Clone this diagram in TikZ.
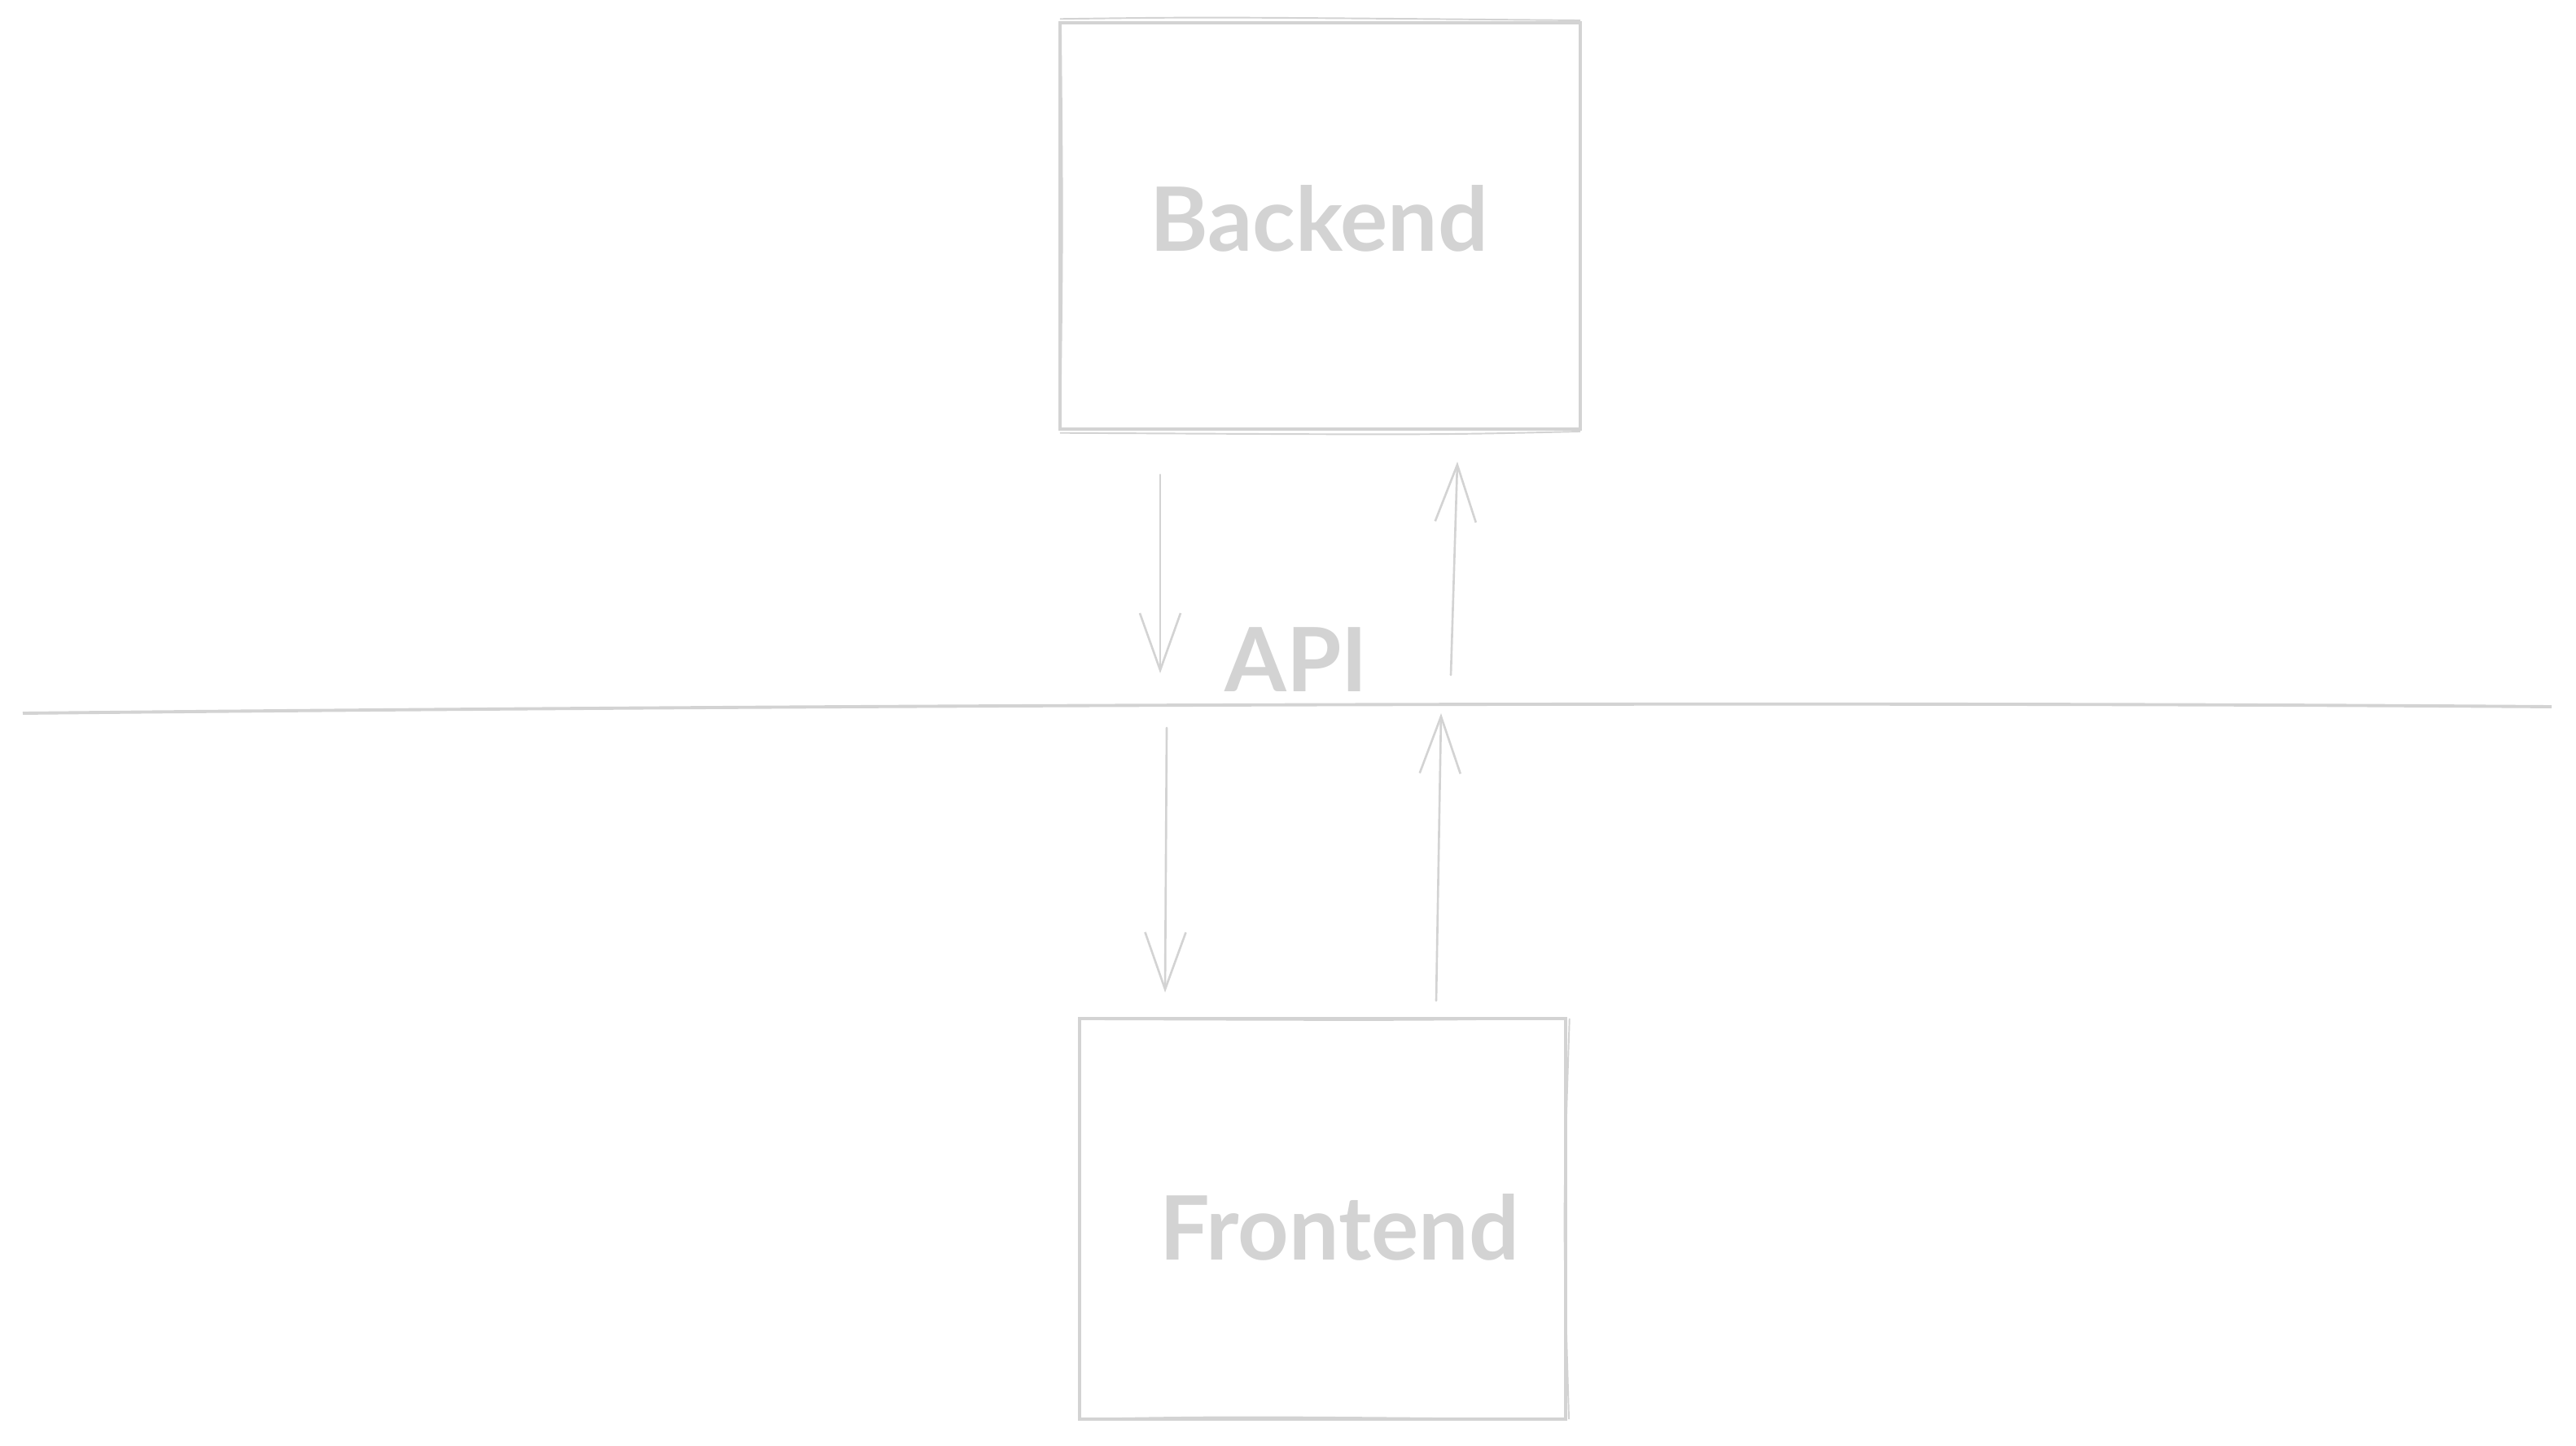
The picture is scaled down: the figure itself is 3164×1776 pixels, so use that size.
\documentclass[tikz,border=0pt]{standalone}
\usepackage{fontspec}
\setmainfont{Lato}
\usetikzlibrary{arrows.meta}
\definecolor{sketch}{HTML}{D3D3D3}
\tikzset{
  box/.style={draw=sketch, line width=1pt, inner sep=0pt},
  lbl/.style={text=sketch, font=\fontsize{31}{37}\selectfont\bfseries, inner sep=0pt},
  flow/.style={draw=sketch, line width=0.75pt, line cap=round, -{Straight Barb[length=7mm, width=5mm, line width=0.75pt]}},
  apiline/.style={draw=sketch, line width=1.1pt},
  rough/.style={draw=sketch, line width=0.55pt}
}
\begin{document}
\begin{tikzpicture}[x=0.01cm, y=-0.01cm]
\useasboundingbox (0,0) rectangle (3164,1776);
% boxes
\node[box, minimum width=6.39cm, minimum height=4.99cm] (back) at (1621.5,277.5) {};
\node[box, minimum width=5.97cm, minimum height=4.92cm] (front) at (1624.5,1497) {};
% sketchy second strokes
\draw[rough] ([xshift=0.5pt,yshift=0.8pt]back.north west) .. controls ([xshift=-40pt,yshift=1.5pt]back.north) .. ([xshift=-0.5pt,yshift=0.3pt]back.north east);
\draw[rough] ([xshift=0.5pt,yshift=-0.8pt]back.south west) .. controls ([xshift=40pt,yshift=-1.5pt]back.south) .. ([xshift=-0.5pt,yshift=-0.3pt]back.south east);
\draw[rough] ([xshift=0.5pt,yshift=-0.8pt]front.north west) .. controls ([xshift=30pt,yshift=-1.2pt]front.north) .. ([xshift=-0.5pt,yshift=-0.4pt]front.north east);
\draw[rough] ([xshift=0.5pt,yshift=0.6pt]front.south west) .. controls ([xshift=-30pt,yshift=1.5pt]front.south) .. ([xshift=-0.5pt,yshift=0.4pt]front.south east);
\draw[rough] ([xshift=0.8pt,yshift=-0.5pt]front.north east) .. controls ([xshift=-1.5pt]front.east) .. ([xshift=0.6pt,yshift=0.5pt]front.south east);
\draw[rough] ([xshift=0.8pt,yshift=-0.5pt]back.north west) .. controls ([xshift=1.5pt]back.west) .. ([xshift=0.6pt,yshift=0.5pt]back.south west);
% labels
\node[lbl] (backtxt) at (1620,268) {Backend};
\node[lbl] (fronttxt) at (1645,1507) {Frontend};
\node[lbl] (apitxt) at (1592,810) {API};
% API line
\coordinate (L1) at (28,876);
\coordinate (L2) at (3134,868);
\draw[apiline] (L1) .. controls (1000,866) and (2200,861) .. (L2);
% arrow end points
\coordinate (a1s) at (1425,583);
\coordinate (a1e) at (1425,827);
\coordinate (a2s) at (1782,829);
\coordinate (a2e) at (1790,567);
\coordinate (a3s) at (1433,894);
\coordinate (a3e) at (1431,1219);
\coordinate (a4s) at (1764,1229);
\coordinate (a4e) at (1770,876);
\draw[flow] (a1s) -- (a1e);
\draw[flow] (a2s) -- (a2e);
\draw[flow] (a3s) -- (a3e);
\draw[flow] (a4s) -- (a4e);
\end{tikzpicture}
\end{document}
